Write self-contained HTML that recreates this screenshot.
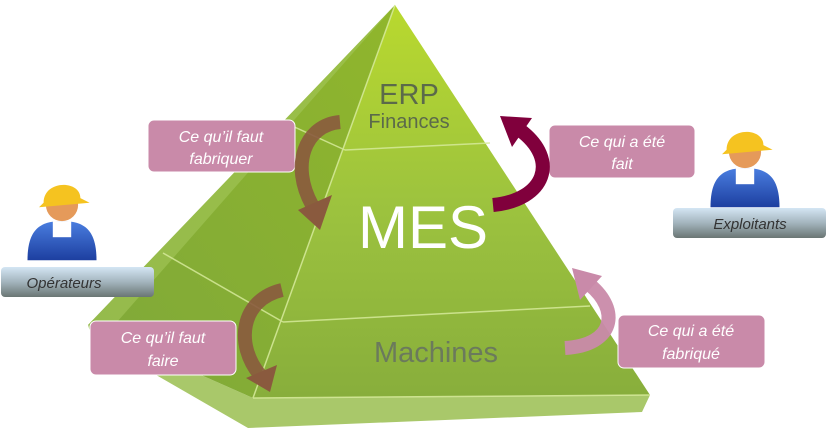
<!DOCTYPE html>
<html><head><meta charset="utf-8"><style>
html,body{margin:0;padding:0;background:#fff;}
svg{display:block;font-family:"Liberation Sans",sans-serif;}
</style></head><body>
<svg width="827" height="431" viewBox="0 0 827 431" xmlns="http://www.w3.org/2000/svg">
<defs>
<linearGradient id="front" x1="0" y1="0" x2="0" y2="1">
<stop offset="0" stop-color="#b9d92e"/><stop offset="0.5" stop-color="#9dc33e"/><stop offset="1" stop-color="#88ae3c"/></linearGradient>
<linearGradient id="left" x1="1" y1="0" x2="0" y2="1">
<stop offset="0" stop-color="#90b62c"/><stop offset="1" stop-color="#7fa83a"/></linearGradient>
<linearGradient id="gbox" x1="0" y1="0" x2="0" y2="1">
<stop offset="0" stop-color="#d4e6f4"/><stop offset="0.5" stop-color="#a3b4bd"/><stop offset="1" stop-color="#6a7674"/></linearGradient>
<linearGradient id="blue" x1="0" y1="0" x2="0" y2="1">
<stop offset="0" stop-color="#4a7ee0"/><stop offset="1" stop-color="#1d3fa0"/></linearGradient>
</defs>
<polygon points="88,325 253,398 650,395 642,412 248,428 92,338" fill="#a9c86a"/>
<polygon points="395,5 88,325 253,398" fill="url(#left)"/>
<polygon points="395,5 88,325 110,330" fill="#a4c65a" opacity="0.6"/>
<polygon points="395,5 253,398 650,395" fill="url(#front)"/>
<g stroke="#d6ea9a" stroke-width="1.5" fill="none" opacity="0.85">
<line x1="395" y1="5" x2="253" y2="398"/>
<line x1="345" y1="150" x2="490" y2="143"/>
<line x1="283" y1="322" x2="590" y2="306"/>
<line x1="345" y1="150" x2="290" y2="125"/>
<line x1="283" y1="322" x2="163" y2="253"/>
<line x1="253" y1="398" x2="650" y2="395"/>
</g>
<text x="409" y="104" font-size="29" fill="#5b6a4a" text-anchor="middle">ERP</text>
<text x="409" y="128" font-size="20" fill="#5b6a4a" text-anchor="middle">Finances</text>
<text x="423" y="248" font-size="60" fill="#fff" text-anchor="middle">MES</text>
<text x="436" y="362" font-size="29" fill="#6b7a5c" text-anchor="middle">Machines</text>
<g fill="#c98aa9" stroke="#fff" stroke-width="1">
<rect x="148" y="120" width="147" height="52" rx="6"/>
<rect x="549" y="125" width="146" height="53" rx="6"/>
<rect x="90" y="321" width="146" height="54" rx="6"/>
<rect x="618" y="315" width="147" height="53" rx="6"/>
</g>
<g fill="#fff" font-size="16" font-style="italic" text-anchor="middle">
<text x="221" y="142">Ce qu’il faut</text><text x="221" y="164">fabriquer</text>
<text x="622" y="147">Ce qui a été</text><text x="622" y="169">fait</text>
<text x="163" y="343">Ce qu’il faut</text><text x="163" y="366">faire</text>
<text x="691" y="336">Ce qui a été</text><text x="691" y="359">fabriqué</text>
</g>
<g stroke-linecap="butt" fill="none">
<path d="M340,122 C305,125 290,165 312,205" stroke="#8a5a3e" stroke-width="14" opacity="0.9"/>
<polygon points="298,210 332,195 320,230" fill="#8a5a3e"/>
<path d="M493,205 C545,200 560,160 520,130" stroke="#80003c" stroke-width="14"/>
<polygon points="500,116 532,118 512,147" fill="#80003c"/>
<path d="M282,290 C240,300 235,345 260,375" stroke="#8a5a3e" stroke-width="14" opacity="0.9"/>
<polygon points="246,378 277,365 270,392" fill="#8a5a3e"/>
<path d="M565,348 C615,345 620,310 590,285" stroke="#c98aa9" stroke-width="14" opacity="0.95"/>
<polygon points="572,268 602,276 580,300" fill="#c98aa9"/>
</g>
<rect x="1" y="267" width="153" height="30" rx="4" fill="url(#gbox)"/>
<text x="64" y="288" font-size="15" font-style="italic" fill="#333" text-anchor="middle">Opérateurs</text>
<rect x="673" y="208" width="153" height="30" rx="4" fill="url(#gbox)"/>
<text x="750" y="229" font-size="15" font-style="italic" fill="#333" text-anchor="middle">Exploitants</text>
<g transform="translate(62,205) scale(1.15)">
<path d="M-30,48 C-30,20 -18,14 0,14 C18,14 30,20 30,48 Z" fill="url(#blue)"/>
<rect x="-8" y="14" width="16" height="14" fill="#fff"/>
<circle cx="0" cy="0" r="14" fill="#e59a5a"/>
<path d="M-16,-2 C-16,-22 16,-22 16,-6 L24,-2 L-20,2 Z" fill="#f5c320"/>
</g>
<g transform="translate(745,152) scale(1.15)">
<path d="M-30,48 C-30,20 -18,14 0,14 C18,14 30,20 30,48 Z" fill="url(#blue)"/>
<rect x="-8" y="14" width="16" height="14" fill="#fff"/>
<circle cx="0" cy="0" r="14" fill="#e59a5a"/>
<path d="M-16,-2 C-16,-22 16,-22 16,-6 L24,-2 L-20,2 Z" fill="#f5c320"/>
</g>
</svg>
</body></html>
